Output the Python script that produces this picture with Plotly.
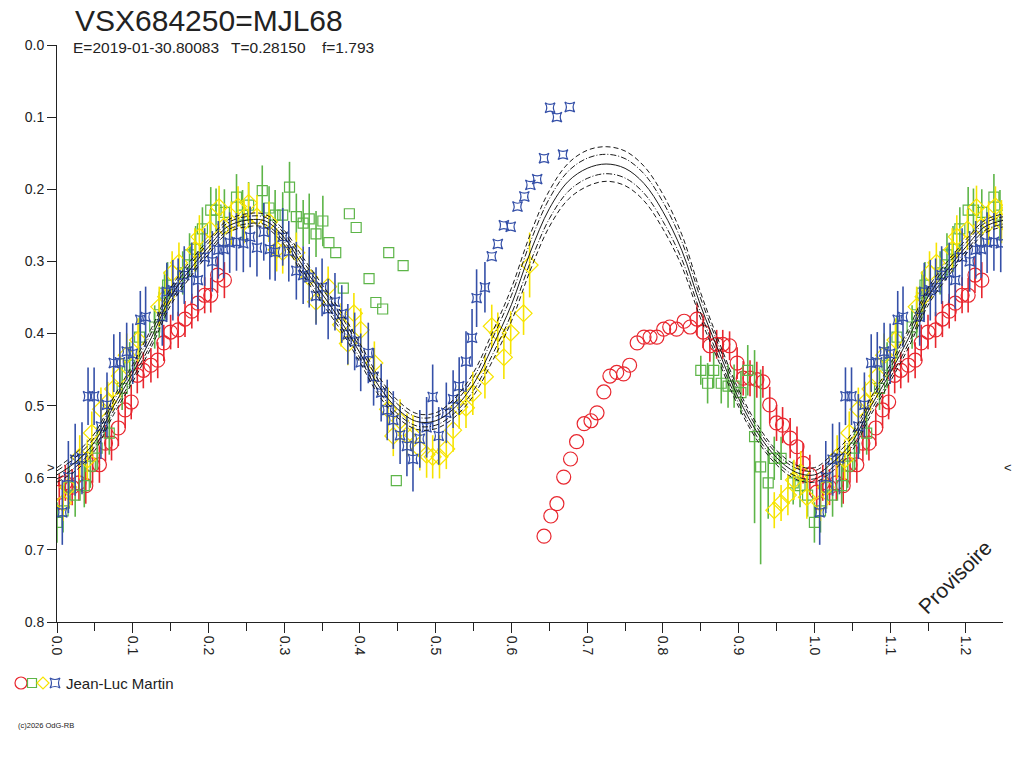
import plotly.graph_objects as go

FONT = "Liberation Sans, Arial, sans-serif"
INK = "#222222"
RED = "#E8262E"
GREEN = "#5DB548"
YELLOW = "#F7E400"
BLUE = "#3550A8"

# fitted light curve, read every 0.025 in phase, and half-width of the outer band
model_phase = [round(i * 0.025, 3) for i in range(40)]
model_mag = [0.596, 0.578, 0.550, 0.500, 0.455, 0.405, 0.349, 0.312, 0.280, 0.252,
             0.243, 0.244, 0.267, 0.307, 0.345, 0.383, 0.427, 0.473, 0.505, 0.522,
             0.521, 0.503, 0.470, 0.418, 0.360, 0.287, 0.227, 0.189, 0.171, 0.165,
             0.171, 0.192, 0.231, 0.285, 0.362, 0.428, 0.490, 0.538, 0.572, 0.592]
model_band = [0.010, 0.012, 0.012, 0.012, 0.012, 0.013, 0.012, 0.011, 0.010, 0.009,
              0.009, 0.009, 0.010, 0.012, 0.013, 0.013, 0.013, 0.013, 0.012, 0.011,
              0.011, 0.013, 0.016, 0.020, 0.023, 0.025, 0.025, 0.025, 0.025, 0.024,
              0.024, 0.024, 0.024, 0.022, 0.018, 0.014, 0.012, 0.011, 0.010, 0.010]

# observations (phase, magnitude, error; 0 = no error bar)
red_phase = [0.003, 0.011, 0.020, 0.029, 0.038, 0.047, 0.056, 0.064, 0.072, 0.081,
             0.090, 0.098, 0.106, 0.114, 0.124, 0.133, 0.141, 0.150, 0.160, 0.169,
             0.178, 0.186, 0.195, 0.203, 0.212, 0.221,
             0.643, 0.652, 0.660, 0.669, 0.678, 0.686, 0.696, 0.705, 0.713, 0.722,
             0.730, 0.739, 0.748, 0.756, 0.766, 0.775, 0.783, 0.792, 0.801, 0.809,
             0.818, 0.828, 0.836,
             0.845, 0.853, 0.862, 0.871, 0.879, 0.888, 0.898, 0.906, 0.915, 0.924,
             0.932, 0.941, 0.950, 0.958, 0.968, 0.977, 0.985, 0.994]
red_mag = [0.620, 0.607, 0.613, 0.607, 0.611, 0.582, 0.582, 0.552, 0.552, 0.531,
           0.506, 0.495, 0.458, 0.451, 0.444, 0.437, 0.413, 0.398, 0.395, 0.380,
           0.369, 0.358, 0.347, 0.347, 0.319, 0.326,
           0.681, 0.653, 0.636, 0.599, 0.574, 0.550, 0.525, 0.521, 0.510, 0.481,
           0.459, 0.454, 0.456, 0.444, 0.413, 0.405, 0.405, 0.405, 0.394, 0.391,
           0.394, 0.383, 0.391,
           0.380, 0.398, 0.417, 0.415, 0.415, 0.417, 0.441, 0.462, 0.462, 0.464,
           0.467, 0.499, 0.524, 0.527, 0.545, 0.557, 0.580, 0.596]
red_err = [0.025, 0.025, 0.025, 0.025, 0.025, 0.025, 0.025, 0.025, 0.024, 0.025,
           0.025, 0.024, 0.025, 0.025, 0.024, 0.025, 0.025, 0.024, 0.025, 0.025,
           0.024, 0.025, 0.025, 0.024, 0.025, 0.025,
           0, 0, 0, 0, 0, 0, 0, 0, 0, 0,
           0, 0, 0, 0, 0, 0, 0, 0, 0, 0,
           0, 0, 0,
           0.022, 0.022, 0.022, 0.020, 0.020, 0.020, 0.022, 0.024, 0.025, 0.025,
           0.022, 0.025, 0.025, 0.025, 0.028, 0.028, 0.028, 0.028]

green_phase = [0.000, 0.008, 0.016, 0.024, 0.036, 0.044, 0.053, 0.069, 0.086, 0.096,
               0.109, 0.129, 0.135, 0.142, 0.146, 0.166, 0.175, 0.183, 0.192, 0.203,
               0.210, 0.221, 0.237, 0.245, 0.253, 0.271, 0.280, 0.288, 0.298, 0.307,
               0.316, 0.325, 0.333, 0.342, 0.351,
               0.359, 0.368, 0.378, 0.386, 0.395, 0.412, 0.421, 0.430, 0.438, 0.448,
               0.457,
               0.850, 0.859, 0.867, 0.877, 0.886, 0.894, 0.903, 0.912, 0.921, 0.929,
               0.939, 0.947, 0.956, 0.972, 0.981, 0.991]
green_mag = [0.662, 0.646, 0.613, 0.624, 0.611, 0.584, 0.559, 0.538, 0.476, 0.444,
             0.405, 0.391, 0.374, 0.344, 0.333, 0.316, 0.291, 0.283, 0.255, 0.229,
             0.229, 0.232, 0.211, 0.236, 0.222, 0.202, 0.226, 0.236, 0.236, 0.197,
             0.238, 0.247, 0.241, 0.262, 0.244,
             0.274, 0.288, 0.337, 0.234, 0.253, 0.324, 0.357, 0.366, 0.288, 0.604,
             0.306,
             0.451, 0.469, 0.451, 0.469, 0.473, 0.473, 0.482, 0.451, 0.543, 0.585,
             0.607, 0.573, 0.573, 0.607, 0.611, 0.624]
green_err = [0.028, 0.030, 0.030, 0.030, 0.030, 0.030, 0.030, 0.030, 0.030, 0.032,
             0.030, 0.030, 0.032, 0.030, 0.032, 0.030, 0.030, 0.032, 0.030, 0.032,
             0.030, 0.032, 0.032, 0.035, 0.032, 0.035, 0.030, 0.035, 0.032, 0.035,
             0.032, 0.032, 0.035, 0.032, 0.035,
             0, 0, 0, 0, 0, 0, 0, 0, 0, 0,
             0,
             0.020, 0.028, 0.025, 0.028, 0.030, 0.030, 0.030, 0.035, 0.120, 0.135,
             0.050, 0.030, 0.030, 0.030, 0.030, 0.030]

yellow_phase = [0.008, 0.015, 0.030, 0.040, 0.046, 0.058, 0.067, 0.074, 0.083, 0.092,
                0.107, 0.135, 0.144, 0.152, 0.161, 0.182, 0.188, 0.202, 0.214, 0.220,
                0.230, 0.239, 0.247, 0.253, 0.264, 0.280, 0.290, 0.298, 0.316, 0.333,
                0.342, 0.358, 0.375, 0.384, 0.392, 0.401, 0.419, 0.437, 0.444, 0.453,
                0.462, 0.470, 0.479, 0.488, 0.496, 0.505, 0.514, 0.523, 0.531, 0.540,
                0.549, 0.565, 0.574, 0.582, 0.590, 0.599, 0.616, 0.624,
                0.947, 0.956, 0.965, 0.973, 0.982, 0.990]
yellow_mag = [0.635, 0.613, 0.571, 0.575, 0.538, 0.505, 0.495, 0.477, 0.459, 0.430,
              0.409, 0.363, 0.349, 0.316, 0.302, 0.284, 0.266, 0.256, 0.225, 0.252,
              0.247, 0.224, 0.245, 0.219, 0.238, 0.245, 0.284, 0.287, 0.288, 0.322,
              0.356, 0.335, 0.388, 0.414, 0.372, 0.395, 0.441, 0.505, 0.542, 0.521,
              0.541, 0.541, 0.560, 0.568, 0.571, 0.571, 0.560, 0.534, 0.502, 0.503,
              0.483, 0.460, 0.390, 0.399, 0.433, 0.399, 0.372, 0.305,
              0.645, 0.635, 0.624, 0.603, 0.593, 0.627]
yellow_err = [0.025, 0.030, 0.030, 0.028, 0.030, 0.030, 0.028, 0.030, 0.030, 0.030,
              0.030, 0.028, 0.030, 0.030, 0.028, 0.030, 0.030, 0.028, 0.030, 0.028,
              0.030, 0.028, 0.030, 0.028, 0.030, 0.028, 0.030, 0.030, 0.028, 0.030,
              0.030, 0.028, 0.030, 0.030, 0.028, 0.030, 0.030, 0.030, 0.028, 0.030,
              0.030, 0.028, 0.030, 0.032, 0.030, 0.030, 0.028, 0.030, 0.030, 0.028,
              0.030, 0.030, 0.030, 0.028, 0.030, 0.030, 0.030, 0.045,
              0.025, 0.025, 0.028, 0.028, 0.030, 0.030]

blue_phase = [0.007, 0.015, 0.024, 0.033, 0.041, 0.049, 0.058, 0.066, 0.075, 0.083,
              0.092, 0.100, 0.110, 0.117, 0.139, 0.145, 0.153, 0.160, 0.168, 0.178,
              0.186, 0.195, 0.205, 0.213, 0.220, 0.228, 0.237, 0.246, 0.255, 0.264,
              0.273, 0.281, 0.288, 0.298, 0.306, 0.316, 0.325, 0.333, 0.342, 0.350,
              0.358, 0.367, 0.376, 0.384, 0.393, 0.401, 0.411, 0.418, 0.428, 0.436,
              0.444, 0.453, 0.462, 0.470, 0.479, 0.488, 0.496, 0.504, 0.514, 0.523,
              0.531, 0.540, 0.548, 0.554, 0.565,
              0.574, 0.582, 0.590, 0.599, 0.608, 0.617, 0.625, 0.634, 0.643, 0.651,
              0.660, 0.668, 0.677]
blue_mag = [0.648, 0.599, 0.575, 0.573, 0.487, 0.487, 0.529, 0.499, 0.441, 0.440,
            0.425, 0.428, 0.381, 0.377, 0.377, 0.342, 0.340, 0.336, 0.319, 0.316,
            0.326, 0.294, 0.300, 0.284, 0.283, 0.274, 0.273, 0.275, 0.266, 0.281,
            0.259, 0.283, 0.287, 0.266, 0.286, 0.313, 0.319, 0.322, 0.348, 0.336,
            0.366, 0.356, 0.373, 0.401, 0.411, 0.440, 0.427, 0.460, 0.482, 0.506,
            0.520, 0.541, 0.556, 0.574, 0.546, 0.530, 0.488, 0.542, 0.510, 0.491,
            0.473, 0.439, 0.406, 0.351, 0.336,
            0.293, 0.276, 0.250, 0.252, 0.224, 0.210, 0.194, 0.186, 0.157, 0.087,
            0.100, 0.152, 0.086]
blue_err = [0.045, 0.050, 0.050, 0.050, 0.040, 0.040, 0.045, 0.045, 0.040, 0.042,
            0.040, 0.042, 0.040, 0.042, 0.040, 0.040, 0.042, 0.040, 0.040, 0.042,
            0.040, 0.040, 0.042, 0.040, 0.040, 0.042, 0.040, 0.040, 0.042, 0.040,
            0.040, 0.042, 0.040, 0.040, 0.042, 0.040, 0.040, 0.042, 0.040, 0.040,
            0.042, 0.040, 0.040, 0.042, 0.040, 0.040, 0.042, 0.040, 0.040, 0.042,
            0.040, 0.040, 0.042, 0.045, 0.040, 0.042, 0.045, 0.040, 0.042, 0.040,
            0.040, 0.042, 0.040, 0.040, 0.035,
            0, 0, 0, 0, 0, 0, 0, 0, 0, 0,
            0, 0, 0]

PHASE_MAX = 1.249


def wrap(phase, *cols):
    # repeat the start of the cycle after phase 1.0
    out_p = list(phase)
    out_c = [list(c) for c in cols]
    for i, p in enumerate(phase):
        if p + 1 <= PHASE_MAX + 0.002:
            out_p.append(round(p + 1, 3))
            for k, c in enumerate(cols):
                out_c[k].append(c[i])
    return [out_p] + out_c


fig = go.Figure()

series = [
    (red_phase, red_mag, red_err, RED, "circle-open", 14),
    (green_phase, green_mag, green_err, GREEN, "square-open", 10),
    (yellow_phase, yellow_mag, yellow_err, YELLOW, "diamond-open", 13),
    (blue_phase, blue_mag, blue_err, BLUE, "star-square-open", 9),
]
for ph, mg, er, col, sym, sz in series:
    wp, wm, we = wrap(ph, mg, er)
    fig.add_trace(go.Scatter(
        x=wp, y=wm, mode="markers",
        marker=dict(symbol=sym, size=sz, color=col, line=dict(width=1.2, color=col)),
        error_y=dict(type="data", array=we, visible=True, color=col, thickness=1.6, width=0),
        showlegend=False, hoverinfo="skip",
    ))

# model curve with its two envelopes
cp, cm, cb = wrap(model_phase, model_mag, model_band)
curves = [
    ([m - b for m, b in zip(cm, cb)], "5px,3px"),
    ([m - 0.56 * b for m, b in zip(cm, cb)], "6px,2px,1px,2px"),
    (cm, "solid"),
    ([m + 0.56 * b for m, b in zip(cm, cb)], "6px,2px,1px,2px"),
    ([m + b for m, b in zip(cm, cb)], "5px,3px"),
]
for ys, dash in curves:
    fig.add_trace(go.Scatter(
        x=cp, y=ys, mode="lines",
        line=dict(color="#1a1a1a", width=1, dash=dash, shape="spline", smoothing=1),
        showlegend=False, hoverinfo="skip",
    ))

# plot area in page pixels: x 57..1003, y 45..622
L, R, T, B = 57, 1003, 45, 622
W, H = 1024, 768


def px(x):
    return (x - L) / (R - L)


def py(y):
    return (B - y) / (B - T)


ly = py(683)
star = "M-5,-5 Q0,-2 5,-5 Q2,0 5,5 Q0,2 -5,5 Q-2,0 -5,-5 Z"
legend_shapes = [
    dict(type="circle", x0=-6, x1=6, y0=-6, y1=6, xanchor=px(21), line=dict(color=RED, width=1.2)),
    dict(type="rect", x0=-4.5, x1=4.5, y0=-4.5, y1=4.5, xanchor=px(32), line=dict(color=GREEN, width=1.2)),
    dict(type="path", path="M-6,0 L0,6 L6,0 L0,-6 Z", xanchor=px(43), line=dict(color=YELLOW, width=1.2)),
    dict(type="path", path=star, xanchor=px(55), line=dict(color=BLUE, width=1.2)),
]
for s in legend_shapes:
    s.update(xref="paper", yref="paper", xsizemode="pixel", ysizemode="pixel", yanchor=ly)
    fig.add_shape(**s)

annotations = [
    dict(text="VSX684250=MJL68", x=px(73), y=py(21), size=30),
    dict(text="E=2019-01-30.80083", x=px(71), y=py(48), size=15.5),
    dict(text="T=0.28150", x=px(229), y=py(48), size=15.5),
    dict(text="f=1.793", x=px(320), y=py(48), size=15.5),
    dict(text="Jean-Luc Martin", x=px(64), y=ly, size=15),
    dict(text="(c)2026 OdG-RB", x=px(16), y=py(725), size=7.5),
    dict(text=">", x=px(45), y=py(467), size=13),
    dict(text="<", x=px(1002), y=py(467), size=13),
]
for a in annotations:
    fig.add_annotation(
        text=a["text"], x=a["x"], y=a["y"], xref="paper", yref="paper",
        xanchor="left", yanchor="middle", showarrow=False,
        font=dict(family=FONT, size=a["size"], color=INK),
    )
fig.add_annotation(
    text="Provisoire", x=px(954), y=py(577), xref="paper", yref="paper",
    xanchor="center", yanchor="middle", showarrow=False, textangle=-45,
    font=dict(family=FONT, size=21, color=INK),
)

fig.update_xaxes(
    range=[0, PHASE_MAX], dtick=0.1, tick0=0, tickformat=".1f", tickangle=90,
    showline=True, linecolor=INK, linewidth=1, showgrid=False, zeroline=False,
    ticks="outside", ticklen=10, tickcolor=INK, tickwidth=1,
    minor=dict(dtick=0.05, tick0=0, ticks="outside", ticklen=8, tickcolor=INK, tickwidth=1),
    tickfont=dict(family=FONT, size=14, color=INK),
)
fig.update_yaxes(
    range=[0.8, 0], dtick=0.1, tick0=0, tickformat=".1f",
    showline=True, linecolor=INK, linewidth=1, showgrid=False, zeroline=False,
    ticks="outside", ticklen=9, tickcolor=INK, tickwidth=1,
    tickfont=dict(family=FONT, size=14, color=INK),
)
fig.update_layout(
    width=W, height=H,
    margin=dict(l=L, r=W - R, t=T, b=H - B),
    paper_bgcolor="white", plot_bgcolor="white",
    showlegend=False,
)

# drop the browser's default page margin so the figure sits at the window corner
fig.write_html(
    "out.html",
    config={"displayModeBar": False},
    post_script="document.body.style.margin='0';document.body.style.overflow='hidden';",
)
